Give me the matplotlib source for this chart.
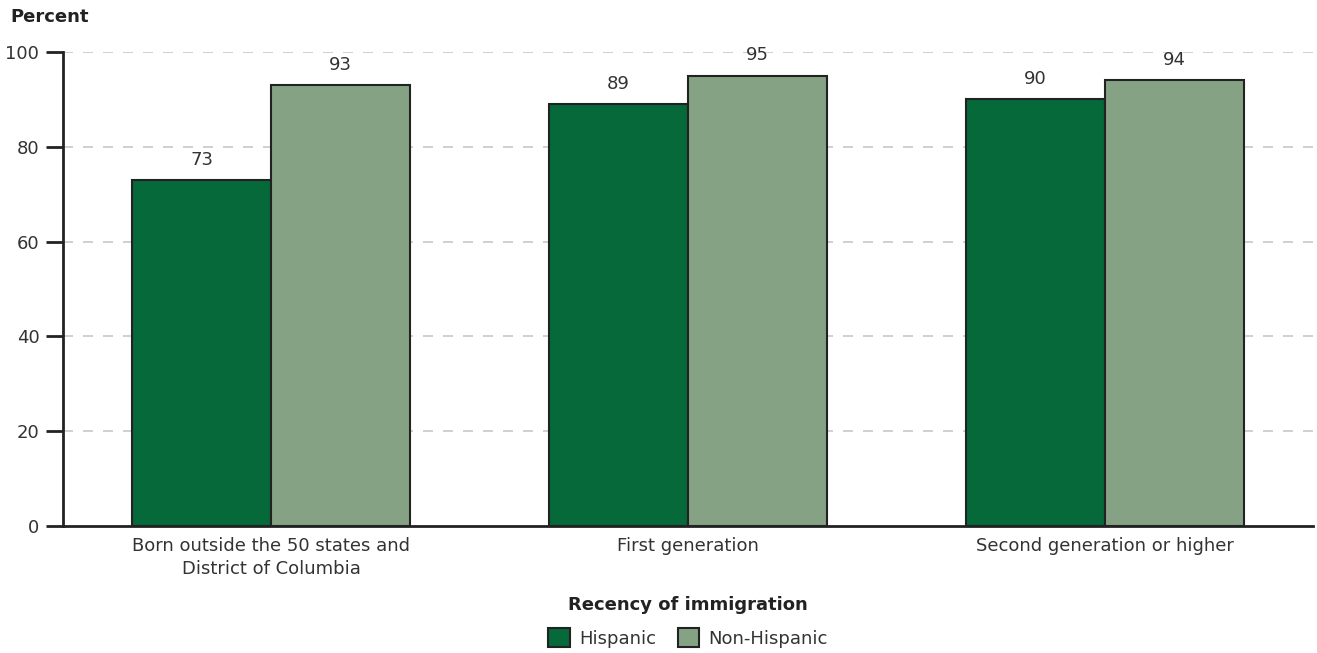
import matplotlib.pyplot as plt
import numpy as np
from matplotlib.patches import Patch

plt.rcParams['font.family'] = ['DejaVu Sans']

# data
categories = ["Born outside the 50 states and\nDistrict of Columbia", "First generation", "Second generation or higher"]
hispanic = [73, 89, 90]
non_hispanic = [93, 95, 94]
series_names = ["Hispanic", "Non-Hispanic"]
yticks = [0, 20, 40, 60, 80, 100]

dark_green = "#05693a"
light_green = "#86a284"
text_col = "#333333"
fs = 13

fig = plt.figure(figsize=(13.17, 6.53), dpi=100)
ax = fig.add_axes([0.0478, 0.1945, 0.9492, 0.7259])

x = np.arange(len(categories))
w = 1 / 3
b1 = ax.bar(x - w / 2, hispanic, w, color=dark_green, edgecolor="#222222", linewidth=1.5, zorder=3)
b2 = ax.bar(x + w / 2, non_hispanic, w, color=light_green, edgecolor="#222222", linewidth=1.5, zorder=3)

for bars, vals in [(b1, hispanic), (b2, non_hispanic)]:
    for r, v in zip(bars, vals):
        ax.text(r.get_x() + r.get_width() / 2, v + 2.4, str(v), ha="center", va="bottom",
                fontsize=fs, color=text_col)

ax.set_xlim(-0.5, 2.5)
ax.set_ylim(0, 100)
ax.set_yticks(yticks)
ax.set_yticklabels([str(t) for t in yticks], fontsize=fs, color=text_col)
ax.set_xticks(x)
ax.set_xticklabels(categories, fontsize=fs, color=text_col, linespacing=1.35)
ax.tick_params(axis="x", length=0, pad=8)
ax.tick_params(axis="y", length=12, width=2, color="#222222", pad=5)

for t in yticks[1:]:
    ax.axhline(t, color="#c8c8c8", linestyle=(0, (6, 6)), linewidth=1.2, zorder=1)

for s in ["top", "right"]:
    ax.spines[s].set_visible(False)
ax.spines["left"].set_linewidth(2)
ax.spines["left"].set_color("#222222")
ax.spines["bottom"].set_linewidth(2)
ax.spines["bottom"].set_color("#222222")

fig.text(10 / 1317, 1 - 17 / 653, "Percent", fontsize=fs, fontweight="bold", color="#222222",
         ha="left", va="center")

fig.text(688 / 1317, 1 - 605 / 653, "Recency of immigration", fontsize=fs, fontweight="bold",
         color="#222222", ha="center", va="center")

handles = [Patch(facecolor=dark_green, edgecolor="#222222", linewidth=1.5),
           Patch(facecolor=light_green, edgecolor="#222222", linewidth=1.5)]
fig.legend(handles, series_names, loc="center", bbox_to_anchor=(688 / 1317, 1 - 638 / 653),
           ncol=2, frameon=False, fontsize=fs, handlelength=1.2, handleheight=1.2,
           handletextpad=0.5, columnspacing=1.2, labelcolor=text_col)

fig.savefig("out.png", dpi=100)
